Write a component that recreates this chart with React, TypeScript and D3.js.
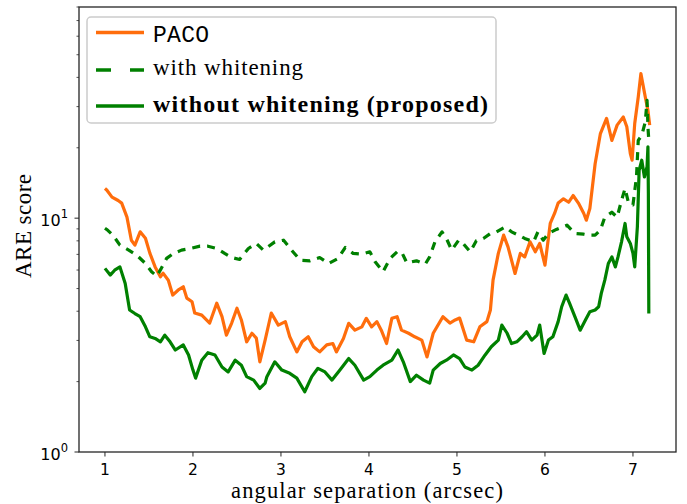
import React from 'react';
import * as d3 from 'd3';

// ---------- data ----------
const xTicks = [1, 2, 3, 4, 5, 6, 7];
const yMajorTicks = [1, 10];
const yMajorExp = ['0', '1'];
const yMinorTicks = [2, 3, 4, 5, 6, 7, 8, 9, 20, 30, 40, 50, 60, 70, 80];
const legendLabels = ['PACO', 'with whitening', 'without whitening (proposed)'];
const xLabel = 'angular separation (arcsec)';
const yLabel = 'ARE score';

const pacoData: [number, number][] = [
  [1.00, 13.4], [1.02, 13.2], [1.08, 12.3], [1.15, 11.9], [1.19, 11.6], [1.25, 10.1], [1.30, 8.05], [1.34, 7.67], [1.40, 8.74], [1.46, 8.21],
  [1.51, 7.09], [1.57, 6.19], [1.63, 5.61], [1.66, 5.82], [1.72, 5.43], [1.77, 4.69], [1.83, 4.92], [1.89, 5.09], [1.93, 4.55], [1.99, 4.39],
  [2.02, 3.93], [2.10, 3.85], [2.19, 3.56], [2.27, 4.33], [2.33, 3.79], [2.38, 3.16], [2.44, 3.56], [2.50, 4.12], [2.55, 3.67], [2.61, 2.96],
  [2.67, 3.22], [2.72, 3.07], [2.76, 2.43], [2.82, 3.01], [2.89, 3.93], [2.97, 3.49], [3.05, 3.61], [3.10, 3.11], [3.18, 2.68], [3.24, 2.96],
  [3.31, 3.11], [3.37, 2.82], [3.44, 2.68], [3.52, 2.87], [3.59, 2.91], [3.63, 2.68], [3.71, 3.06], [3.77, 3.55], [3.84, 3.32], [3.92, 3.43],
  [3.97, 3.73], [4.03, 3.43], [4.09, 3.61], [4.14, 3.32], [4.20, 2.91], [4.26, 3.73], [4.32, 3.79], [4.37, 3.32], [4.45, 3.22], [4.52, 3.11],
  [4.60, 3.01], [4.66, 2.55], [4.73, 3.22], [4.84, 3.79], [4.92, 3.56], [4.98, 3.67], [5.03, 3.74], [5.11, 3.01], [5.19, 2.96], [5.26, 3.43],
  [5.34, 3.61], [5.38, 4.05], [5.41, 5.43], [5.47, 7.07], [5.53, 8.46], [5.58, 7.54], [5.66, 5.80], [5.72, 7.07], [5.77, 6.83], [5.83, 7.92],
  [5.89, 7.18], [5.94, 7.80], [6.00, 6.30], [6.06, 9.49], [6.11, 10.5], [6.15, 11.6], [6.21, 12.1], [6.27, 11.7], [6.32, 12.5], [6.38, 11.6],
  [6.44, 10.5], [6.47, 9.80], [6.51, 11.0], [6.57, 17.1], [6.63, 23.0], [6.70, 26.7], [6.76, 21.5], [6.82, 25.0], [6.89, 27.1], [6.93, 24.6],
  [6.97, 18.9], [6.99, 17.7], [7.02, 25.4], [7.06, 33.0], [7.09, 41.5], [7.14, 33.0], [7.17, 28.9], [7.19, 25.0],
];

const whiteningData: [number, number][] = [
  [1.00, 9.06], [1.02, 8.95], [1.09, 8.46], [1.17, 7.67], [1.27, 7.30], [1.36, 6.95], [1.46, 6.40], [1.53, 5.90], [1.59, 5.65], [1.64, 6.10],
  [1.70, 6.73], [1.78, 7.07], [1.87, 7.30], [1.97, 7.42], [2.08, 7.59], [2.17, 7.59], [2.27, 7.42], [2.36, 7.07], [2.44, 6.79], [2.53, 6.66],
  [2.63, 7.42], [2.72, 7.80], [2.80, 7.30], [2.93, 7.92], [3.03, 8.05], [3.12, 7.30], [3.22, 6.61], [3.33, 6.57], [3.44, 6.79], [3.54, 6.40],
  [3.65, 6.73], [3.73, 7.49], [3.82, 7.07], [3.92, 7.02], [4.01, 7.18], [4.07, 6.51], [4.16, 5.90], [4.24, 6.73], [4.32, 7.18], [4.37, 7.18],
  [4.43, 6.44], [4.54, 6.57], [4.64, 6.36], [4.69, 6.83], [4.75, 7.92], [4.83, 8.74], [4.88, 8.19], [4.94, 7.30], [5.02, 8.05], [5.07, 7.80],
  [5.15, 7.18], [5.22, 8.00], [5.30, 8.19], [5.38, 8.60], [5.45, 8.74], [5.55, 9.18], [5.62, 8.74], [5.70, 8.46], [5.77, 8.19], [5.87, 7.92],
  [5.92, 8.74], [5.98, 8.05], [6.04, 8.60], [6.13, 8.95], [6.25, 9.33], [6.34, 8.60], [6.44, 8.54], [6.49, 8.46], [6.57, 8.46], [6.63, 8.89],
  [6.68, 10.1], [6.76, 10.6], [6.82, 10.1], [6.87, 11.9], [6.91, 13.4], [6.95, 11.6], [7.00, 11.4], [7.04, 15.0], [7.06, 21.5], [7.10, 22.6],
  [7.14, 25.8], [7.16, 31.9], [7.17, 24.6], [7.18, 21.5],
];

const proposedData: [number, number][] = [
  [1.00, 6.10], [1.06, 5.71], [1.11, 5.99], [1.17, 6.19], [1.23, 5.26], [1.28, 4.05], [1.34, 3.91], [1.40, 3.79], [1.46, 3.43], [1.51, 3.11],
  [1.57, 3.06], [1.63, 2.96], [1.68, 3.16], [1.74, 2.96], [1.80, 2.73], [1.89, 2.87], [1.95, 2.60], [2.00, 2.24], [2.03, 2.07], [2.10, 2.47],
  [2.17, 2.66], [2.25, 2.60], [2.33, 2.31], [2.40, 2.20], [2.48, 2.47], [2.55, 2.35], [2.61, 2.10], [2.69, 2.03], [2.76, 1.87], [2.82, 1.97],
  [2.84, 2.10], [2.93, 2.43], [3.01, 2.24], [3.10, 2.17], [3.18, 2.07], [3.27, 1.81], [3.35, 2.10], [3.42, 2.28], [3.50, 2.20], [3.58, 2.03],
  [3.67, 2.24], [3.77, 2.51], [3.84, 2.35], [3.94, 2.03], [4.01, 2.10], [4.09, 2.24], [4.16, 2.35], [4.26, 2.47], [4.33, 2.73], [4.39, 2.43],
  [4.47, 2.00], [4.54, 2.13], [4.62, 2.03], [4.69, 1.97], [4.73, 2.24], [4.81, 2.39], [4.88, 2.47], [4.96, 2.60], [5.03, 2.51], [5.09, 2.31],
  [5.17, 2.24], [5.24, 2.35], [5.32, 2.60], [5.39, 2.82], [5.47, 3.01], [5.51, 3.49], [5.57, 3.22], [5.62, 2.91], [5.68, 2.96], [5.74, 3.11],
  [5.79, 3.27], [5.85, 3.01], [5.91, 3.16], [5.94, 3.49], [5.99, 2.64], [6.04, 3.01], [6.09, 3.11], [6.15, 3.61], [6.19, 4.18], [6.24, 4.69],
  [6.28, 4.32], [6.34, 3.79], [6.40, 3.32], [6.46, 3.67], [6.51, 3.98], [6.57, 4.05], [6.61, 4.18], [6.64, 4.77], [6.68, 5.43], [6.72, 6.40],
  [6.76, 6.83], [6.80, 6.19], [6.83, 6.83], [6.87, 7.92], [6.91, 9.49], [6.93, 8.32], [6.97, 7.80], [7.00, 7.07], [7.02, 6.19], [7.05, 9.18],
  [7.07, 16.0], [7.10, 17.7], [7.13, 15.0], [7.16, 16.6], [7.17, 20.2], [7.175, 12.8], [7.18, 3.91],
];

// ---------- layout / style ----------
const W = 687;
const H = 504;
const L = 79;
const R = 676;
const T = 7;
const B = 452;
const ORANGE = '#ff6d0c';
const GREEN = '#008000';
const AXIS = '#262626';
const SERIF = '"Liberation Serif", "Times New Roman", serif';
const SANS = '"DejaVu Sans", sans-serif';

export default function App() {
  const x = d3.scaleLinear().domain([0.705, 7.489]).range([L, R]);
  const y = d3.scaleLog().domain([1, 80]).range([B, T]);
  const line = d3
    .line<[number, number]>()
    .x((d) => x(d[0]))
    .y((d) => y(d[1]));

  const legendRows = [
    { label: legendLabels[0], color: ORANGE, dash: undefined as string | undefined, cy: 32.5, base: 41.5 },
    { label: legendLabels[1], color: GREEN, dash: '15,19', cy: 70, base: 74.5 },
    { label: legendLabels[2], color: GREEN, dash: undefined as string | undefined, cy: 106, base: 111.5 },
  ];

  return (
    <svg
      width={W}
      height={H}
      viewBox={`0 0 ${W} ${H}`}
      style={{ position: 'absolute', left: 0, top: 0, background: '#fff' }}
    >
      <defs>
        <clipPath id="plotClip">
          <rect x={L} y={T} width={R - L} height={B - T} />
        </clipPath>
      </defs>
      <rect x={0} y={0} width={W} height={H} fill="#fff" />

      <g clipPath="url(#plotClip)" fill="none" strokeLinejoin="round">
        <path d={line(pacoData) || ''} stroke={ORANGE} strokeWidth={3.2} />
        <path d={line(whiteningData) || ''} stroke={GREEN} strokeWidth={3.2} strokeDasharray="8,7" />
        <path d={line(proposedData) || ''} stroke={GREEN} strokeWidth={3.2} />
      </g>

      {/* frame */}
      <rect x={L} y={T} width={R - L} height={B - T} fill="none" stroke={AXIS} strokeWidth={1.3} />

      {/* x ticks */}
      {xTicks.map((t) => (
        <g key={`xt${t}`}>
          <line x1={x(t)} x2={x(t)} y1={B} y2={B + 4.5} stroke={AXIS} strokeWidth={1} />
          <text x={x(t)} y={474.5} textAnchor="middle" fontFamily={SANS} fontSize={15.5} fill="#000">
            {t}
          </text>
        </g>
      ))}

      {/* y ticks */}
      {yMajorTicks.map((t, i) => (
        <g key={`yt${t}`}>
          <line x1={L - 4.5} x2={L} y1={y(t)} y2={y(t)} stroke={AXIS} strokeWidth={1} />
          <text x={68} y={y(t) + 8} textAnchor="end" fontFamily={SANS} fontSize={16} fill="#000">
            10
            <tspan fontSize={11.5} dy={-8}>
              {yMajorExp[i]}
            </tspan>
          </text>
        </g>
      ))}
      {yMinorTicks.map((t) => (
        <line key={`ym${t}`} x1={L - 2.5} x2={L} y1={y(t)} y2={y(t)} stroke={AXIS} strokeWidth={0.8} />
      ))}

      {/* axis labels */}
      <text x={367} y={498} textAnchor="middle" fontFamily={SERIF} fontSize={22.5} fill="#000" textLength={272} lengthAdjust="spacing">
        {xLabel}
      </text>
      <text
        transform={`translate(31, 226) rotate(-90)`}
        textAnchor="middle"
        fontFamily={SERIF}
        fontSize={23}
        fill="#000"
        textLength={104}
        lengthAdjust="spacing"
      >
        {yLabel}
      </text>

      {/* legend */}
      <rect x={87} y={17} width={409} height={106} rx={4} ry={4} fill="#fff" fillOpacity={0.8} stroke="#cccccc" strokeWidth={1.5} />
      {legendRows.map((r, i) => (
        <g key={`lg${i}`}>
          <line x1={96} x2={144} y1={r.cy} y2={r.cy} stroke={r.color} strokeWidth={3.5} strokeDasharray={r.dash} />
          {i === 0 ? (
            <text x={153} y={r.base} fontFamily={'"Liberation Mono", "DejaVu Sans Mono", monospace'} fontSize={23} fill="#000" textLength={56} lengthAdjust="spacing">
              {r.label}
            </text>
          ) : (
            <text
              x={153}
              y={r.base}
              fontFamily={SERIF}
              fontSize={i === 2 ? 24 : 23}
              fontWeight={i === 2 ? 'bold' : 'normal'}
              fill="#000"
              textLength={i === 2 ? 335 : 150}
              lengthAdjust="spacing"
            >
              {r.label}
            </text>
          )}
        </g>
      ))}
    </svg>
  );
}
